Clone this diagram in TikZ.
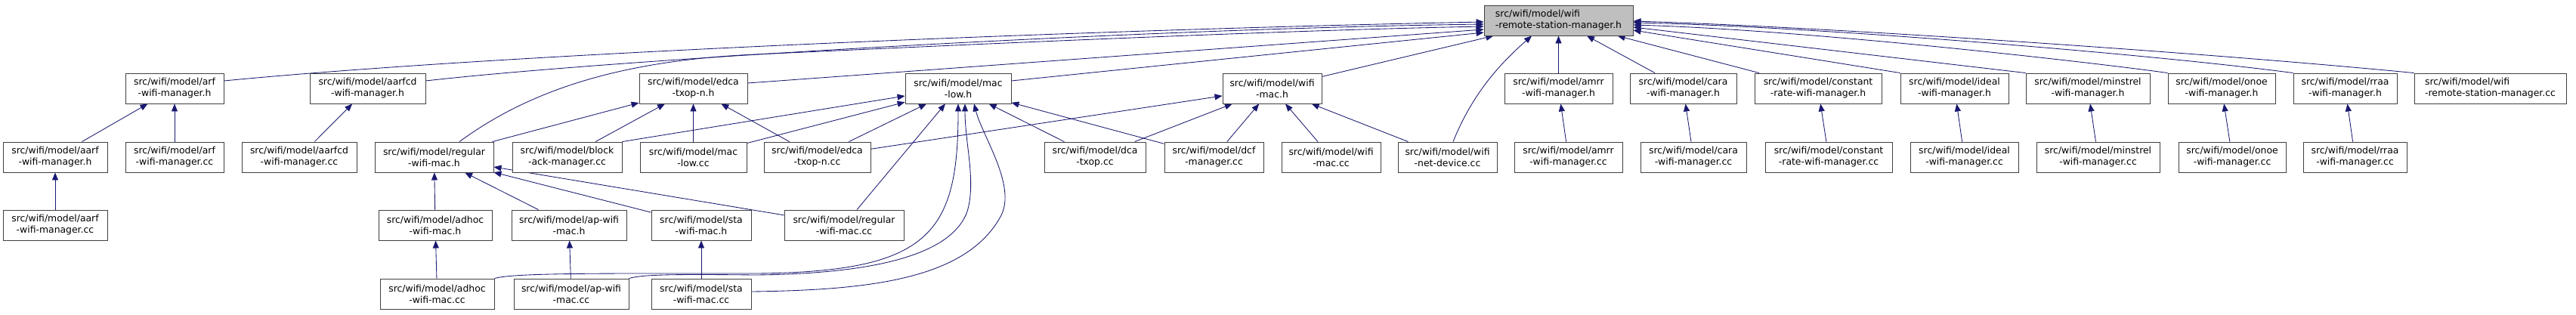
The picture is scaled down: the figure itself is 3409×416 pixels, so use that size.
\documentclass[tikz,border=0pt]{standalone}
\usepackage{fontspec}
\setmainfont{DejaVu Sans}
\usetikzlibrary{arrows.meta,backgrounds}
\definecolor{edgecol}{HTML}{191970}
\definecolor{boxborder}{HTML}{404040}
\definecolor{rootfill}{HTML}{BFBFBF}
\tikzset{
  fbox/.style={draw=boxborder, line width=0.9pt, fill=white, minimum height=40pt,
    inner sep=0pt, align=center, font=\fontsize{12.4pt}{15pt}\selectfont},
  rootbox/.style={fbox, fill=rootfill, align=left},
  leftbox/.style={fbox, align=left},
  edge/.style={draw=edgecol, line width=0.85pt, -{Triangle[length=10pt,width=8pt]}}
}
\begin{document}
\begin{tikzpicture}[x=1pt,y=-1pt]
\useasboundingbox (0,0) rectangle (3409,416);
% row 0
\node[rootbox, minimum width=197pt] (root) at (2062.5,27) {src/wifi/model/wifi\\-remote-station-manager.h};
% row 1
\node[fbox, minimum width=130pt] (arfh) at (231,117) {src/wifi/model/arf\\-wifi-manager.h};
\node[fbox, minimum width=153pt] (aarfcdh) at (486.5,117) {src/wifi/model/aarfcd\\-wifi-manager.h};
\node[fbox, minimum width=143pt] (edcah) at (917.5,117) {src/wifi/model/edca\\-txop-n.h};
\node[fbox, minimum width=140pt] (maclowh) at (1268,117) {src/wifi/model/mac\\-low.h};
\node[fbox, minimum width=131pt] (wifimach) at (1683.5,117) {src/wifi/model/wifi\\-mac.h};
\node[fbox, minimum width=143pt] (amrrh) at (2062.5,117) {src/wifi/model/amrr\\-wifi-manager.h};
\node[fbox, minimum width=141pt] (carah) at (2227.5,117) {src/wifi/model/cara\\-wifi-manager.h};
\node[fbox, minimum width=168pt] (consth) at (2406,117) {src/wifi/model/constant\\-rate-wifi-manager.h};
\node[fbox, minimum width=143pt] (idealh) at (2586.5,117) {src/wifi/model/ideal\\-wifi-manager.h};
\node[fbox, minimum width=164pt] (minstrelh) at (2763,117) {src/wifi/model/minstrel\\-wifi-manager.h};
\node[fbox, minimum width=142pt] (onoeh) at (2940,117) {src/wifi/model/onoe\\-wifi-manager.h};
\node[fbox, minimum width=137pt] (rraah) at (3103.5,117) {src/wifi/model/rraa\\-wifi-manager.h};
\node[leftbox, minimum width=201pt] (rsmcc) at (3295.5,117) {src/wifi/model/wifi\\-remote-station-manager.cc};
% row 2
\node[fbox, minimum width=138pt] (aarfh) at (73,208) {src/wifi/model/aarf\\-wifi-manager.h};
\node[fbox, minimum width=130pt] (arfcc) at (231,208) {src/wifi/model/arf\\-wifi-manager.cc};
\node[fbox, minimum width=152pt] (aarfcdcc) at (396,208) {src/wifi/model/aarfcd\\-wifi-manager.cc};
\node[fbox, minimum width=157pt] (regularh) at (574.5,208) {src/wifi/model/regular\\-wifi-mac.h};
\node[fbox, minimum width=145pt] (blockcc) at (750.5,208) {src/wifi/model/block\\-ack-manager.cc};
\node[fbox, minimum width=141pt] (maclowcc) at (917.5,208) {src/wifi/model/mac\\-low.cc};
\node[fbox, minimum width=141pt] (edcacc) at (1081.5,208) {src/wifi/model/edca\\-txop-n.cc};
\node[fbox, minimum width=134pt] (dcacc) at (1449,208) {src/wifi/model/dca\\-txop.cc};
\node[fbox, minimum width=131pt] (dcfcc) at (1606.5,208) {src/wifi/model/dcf\\-manager.cc};
\node[fbox, minimum width=131pt] (wifimaccc) at (1761.5,208) {src/wifi/model/wifi\\-mac.cc};
\node[fbox, minimum width=131pt] (netdevcc) at (1915.5,208) {src/wifi/model/wifi\\-net-device.cc};
\node[fbox, minimum width=143pt] (amrrcc) at (2075.5,208) {src/wifi/model/amrr\\-wifi-manager.cc};
\node[fbox, minimum width=140pt] (caracc) at (2241,208) {src/wifi/model/cara\\-wifi-manager.cc};
\node[fbox, minimum width=168pt] (constcc) at (2420,208) {src/wifi/model/constant\\-rate-wifi-manager.cc};
\node[fbox, minimum width=143pt] (idealcc) at (2599.5,208) {src/wifi/model/ideal\\-wifi-manager.cc};
\node[fbox, minimum width=163pt] (minstrelcc) at (2776.5,208) {src/wifi/model/minstrel\\-wifi-manager.cc};
\node[fbox, minimum width=142pt] (onoecc) at (2954,208) {src/wifi/model/onoe\\-wifi-manager.cc};
\node[fbox, minimum width=137pt] (rraacc) at (3116.5,208) {src/wifi/model/rraa\\-wifi-manager.cc};
% row 3
\node[fbox, minimum width=138pt] (aarfcc) at (73,298) {src/wifi/model/aarf\\-wifi-manager.cc};
\node[fbox, minimum width=150pt] (adhoch) at (576,298) {src/wifi/model/adhoc\\-wifi-mac.h};
\node[fbox, minimum width=152pt] (aph) at (753,298) {src/wifi/model/ap-wifi\\-mac.h};
\node[fbox, minimum width=132pt] (stah) at (928,298) {src/wifi/model/sta\\-wifi-mac.h};
\node[fbox, minimum width=158pt] (regularcc) at (1117,298) {src/wifi/model/regular\\-wifi-mac.cc};
% row 4
\node[fbox, minimum width=151pt] (adhoccc) at (578.5,389) {src/wifi/model/adhoc\\-wifi-mac.cc};
\node[fbox, minimum width=152pt] (apcc) at (756,389) {src/wifi/model/ap-wifi\\-mac.cc};
\node[fbox, minimum width=132pt] (stacc) at (928,389) {src/wifi/model/sta\\-wifi-mac.cc};

\begin{scope}[on background layer]
% into root, left side
\draw[edge] ([yshift=10pt]arfh.east) .. controls (700,68) and (1500,38) .. ([yshift=-2pt]root.west);
\draw[edge] ([yshift=10pt]aarfcdh.east) .. controls (800,80) and (1500,38) .. ([yshift=-5pt]root.west);
\draw[edge] ([xshift=33.5pt]regularh.north) .. controls (700,120) and (820,80) .. (1000,72) .. controls (1300,58) and (1700,40) .. ([yshift=-8pt]root.west);
\draw[edge] ([yshift=7pt]edcah.east) -- ([yshift=-12pt]root.west);
\draw[edge] ([yshift=10pt]maclowh.east) -- ([yshift=-16pt]root.west);
% into root, below
\draw[edge] (wifimach) -- (root);
\draw[edge] ([xshift=7.5pt]netdevcc.north) .. controls (1950,120) and (1990,80) .. ([xshift=-35.5pt]root.south);
\draw[edge] (amrrh) -- (root);
\draw[edge] (carah) -- (root);
\draw[edge] (consth) -- (root);
% into root, right side
\draw[edge] (idealh.north west) -- ([yshift=-13pt]root.east);
\draw[edge] (minstrelh.north west) -- ([yshift=-9pt]root.east);
\draw[edge] (onoeh.north west) .. controls (2780,84) and (2400,40) .. ([yshift=-6pt]root.east);
\draw[edge] (rraah.north west) .. controls (2850,72) and (2400,35) .. ([yshift=-3pt]root.east);
\draw[edge] (rsmcc.north west) .. controls (2900,68) and (2400,35) .. ([yshift=-1pt]root.east);
% arf / aarfcd
\draw[edge] (aarfh) -- (arfh);
\draw[edge] (arfcc) -- (arfh);
\draw[edge] (aarfcc) -- (aarfh);
\draw[edge] (aarfcdcc) -- (aarfcdh);
% edca-txop-n.h
\draw[edge] (regularh) -- (edcah);
\draw[edge] (blockcc) -- (edcah);
\draw[edge] (maclowcc) -- (edcah);
\draw[edge] (edcacc) -- (edcah);
% mac-low.h
\draw[edge] (blockcc.north east) -- ([yshift=-10pt]maclowh.west);
\draw[edge] (maclowcc) -- (maclowh);
\draw[edge] (edcacc) -- (maclowh);
\draw[edge] (regularcc) -- (maclowh);
\draw[edge] (dcacc) -- (maclowh);
\draw[edge] (dcfcc) -- (maclowh);
\draw[edge] (adhoccc.north east) .. controls (680,361) and (800,362) .. (1000,362) .. controls (1230,360) and (1268,310) .. (maclowh.south);
\draw[edge] (apcc.north east) .. controls (850,363) and (900,363) .. (1000,364) .. controls (1180,362) and (1262,330) .. (1280,280) .. controls (1292,240) and (1277,190) .. ([xshift=9pt]maclowh.south);
\draw[edge] ([yshift=3pt]stacc.east) .. controls (1150,384) and (1280,370) .. (1325,285) .. controls (1345,245) and (1300,180) .. ([xshift=21pt]maclowh.south);
% wifi-mac.h
\draw[edge] (edcacc) -- (wifimach);
\draw[edge] (dcacc) -- (wifimach);
\draw[edge] (dcfcc) -- (wifimach);
\draw[edge] (wifimaccc) -- (wifimach);
\draw[edge] (netdevcc) -- (wifimach);
% regular-wifi-mac.h
\draw[edge] (adhoch) -- (regularh);
\draw[edge] (aph) -- (regularh);
\draw[edge] (stah) -- (regularh);
\draw[edge] (regularcc) -- (regularh);
% row 3 -> row 4
\draw[edge] (adhoccc) -- (adhoch);
\draw[edge] (apcc) -- (aph);
\draw[edge] (stacc) -- (stah);
% rate managers
\draw[edge] (amrrcc) -- (amrrh);
\draw[edge] (caracc) -- (carah);
\draw[edge] (constcc) -- (consth);
\draw[edge] (idealcc) -- (idealh);
\draw[edge] (minstrelcc) -- (minstrelh);
\draw[edge] (onoecc) -- (onoeh);
\draw[edge] (rraacc) -- (rraah);
\end{scope}
\end{tikzpicture}
\end{document}
